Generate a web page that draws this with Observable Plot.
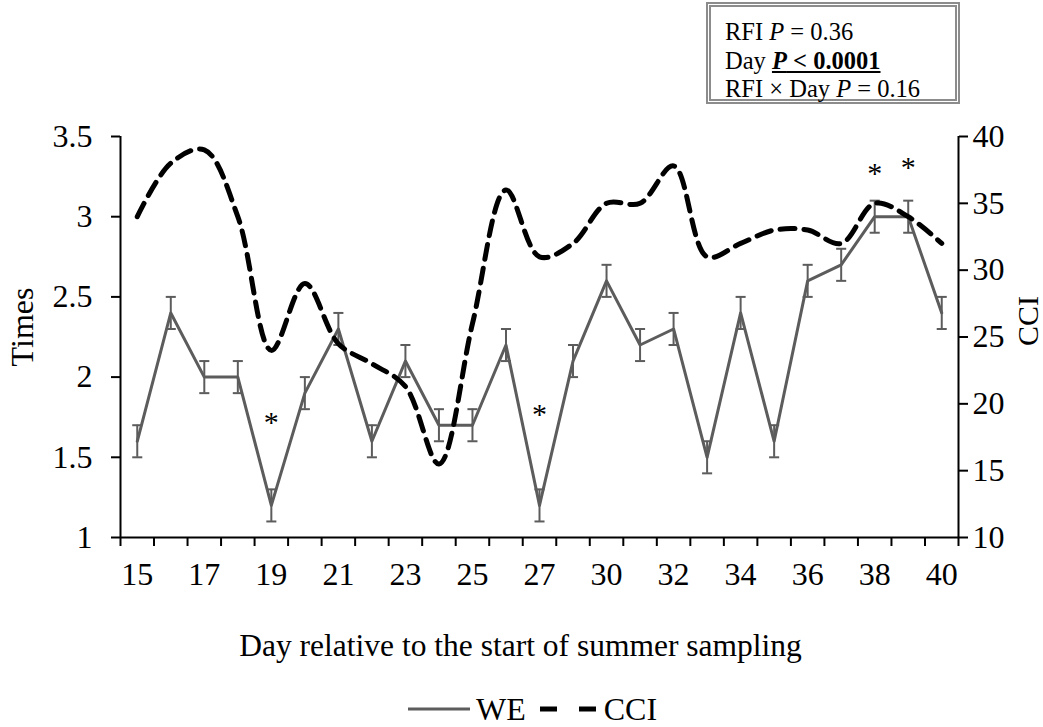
<!DOCTYPE html>
<html><head><meta charset="utf-8">
<script src="https://cdn.jsdelivr.net/npm/d3@7"></script>
<script src="https://cdn.jsdelivr.net/npm/@observablehq/plot@0.6"></script>
<style>
html,body{margin:0;padding:0;background:#fff;}
#wrap{position:relative;width:1043px;height:727px;font-family:"Liberation Serif","Times New Roman",serif;color:#000;overflow:hidden;}
#box{position:absolute;left:706px;top:2px;width:254px;height:102px;box-sizing:border-box;border:5px double #8c8c8c;padding:11px 0 0 14px;font-size:24.5px;line-height:28.5px;white-space:nowrap;background:#fff;overflow:visible;}
#legend{position:absolute;left:408px;top:692px;height:34px;display:flex;align-items:center;font-size:32px;white-space:nowrap;}
</style></head>
<body><div id="wrap"><div id="chart"></div>
<div id="box">RFI <i>P</i> = 0.36<br>Day <b><u><i>P</i> &lt; 0.0001</u></b><br>RFI × Day <i>P</i> = 0.16</div>
<div id="legend"><svg width="62" height="10"><line x1="0" x2="62" y1="5" y2="5" stroke="#5c5c5c" stroke-width="3"/></svg><span style="margin:0 14px 0 6px">WE</span><svg width="56" height="10"><line x1="0" x2="56" y1="5" y2="5" stroke="#000" stroke-width="5" stroke-dasharray="17,22"/></svg><span style="margin-left:8px">CCI</span></div>
</div>
<script>
const days = [15,16,17,18,19,20,21,22,23,24,25,26,27,28,30,31,32,33,34,35,36,37,38,39,40];
const we = [1.6,2.4,2.0,2.0,1.2,1.9,2.3,1.6,2.1,1.7,1.7,2.2,1.2,2.1,2.6,2.2,2.3,1.5,2.4,1.6,2.6,2.7,3.0,3.0,2.4];
const weErr = [0.1,0.1,0.1,0.1,0.1,0.1,0.1,0.1,0.1,0.1,0.1,0.1,0.1,0.1,0.1,0.1,0.1,0.1,0.1,0.1,0.1,0.1,0.1,0.1,0.1];
const cci = [34,38,39,34,24,29,24.5,23,21.3,15.5,26,36,31,32,35,35,37.8,31,32,33,33,32,35,34,32];
const leftTicks = [1,1.5,2,2.5,3,3.5];
const rightTicks = [10,15,20,25,30,35,40];
const starDays = [19,27,38,39];
const starHeights = [1.72,1.77,3.27,3.31];

const toLeft = c => 1 + (c - 10) * 2.5 / 30;
const fromLeft = v => String(Math.round(10 + (v - 1) * 30 / 2.5));
const rows = days.map((d, i) => ({x: i + 0.5, we: we[i], lo: we[i] - weErr[i], hi: we[i] + weErr[i], cci: toLeft(cci[i])}));
const stars = starDays.map((d, k) => ({x: days.indexOf(d) + 0.5, y: starHeights[k]}));
const gray = "#5c5c5c";
const font = "Liberation Serif";

const plot = Plot.plot({
  width: 1043, height: 690,
  marginLeft: 120, marginRight: 85, marginTop: 136, marginBottom: 153,
  x: {type: "linear", domain: [0, days.length]},
  y: {domain: [1, 3.5]},
  style: {fontFamily: font, background: "white", color: "black", overflow: "visible"},
  marks: [
    Plot.ruleX([0, days.length], {stroke: "black", strokeWidth: 2}),
    Plot.ruleY([1], {stroke: "black", strokeWidth: 2}),
    Plot.axisY(leftTicks, {anchor: "left", tickSize: 9, tickPadding: 19, fontSize: 32, label: null, strokeWidth: 2, tickFormat: d => String(d)}),
    Plot.axisY(rightTicks.map(toLeft), {anchor: "right", tickSize: 9, tickPadding: 5, fontSize: 32, label: null, strokeWidth: 2, tickFormat: fromLeft}),
    Plot.axisX(d3.range(0, days.length + 1), {anchor: "bottom", tickSize: 9, tickFormat: () => "", label: null, strokeWidth: 2}),
    Plot.axisX(d3.range(0, days.length, 2).map(i => i + 0.5), {anchor: "bottom", tickSize: 0, tickPadding: 25, fontSize: 32, label: null, tickFormat: d => String(days[Math.floor(d)])}),
    Plot.line(rows, {x: "x", y: "we", stroke: gray, strokeWidth: 3}),
    Plot.ruleX(rows, {x: "x", y1: "lo", y2: "hi", stroke: gray, strokeWidth: 2}),
    Plot.link(rows, {x1: d => d.x - 0.15, x2: d => d.x + 0.15, y1: "lo", y2: "lo", stroke: gray, strokeWidth: 2}),
    Plot.link(rows, {x1: d => d.x - 0.15, x2: d => d.x + 0.15, y1: "hi", y2: "hi", stroke: gray, strokeWidth: 2}),
    Plot.line(rows, {x: "x", y: "cci", stroke: "black", strokeWidth: 5, strokeDasharray: "15,9", curve: "catmull-rom"}),
    Plot.text(stars, {x: "x", y: "y", text: () => "*", fontSize: 30, fill: "black"}),
    Plot.text(["Times"], {frameAnchor: "left", textAnchor: "middle", dx: -110, dy: -10, rotate: -90, lineAnchor: "top", fontSize: 32}),
    Plot.text(["CCI"], {frameAnchor: "right", textAnchor: "middle", dx: 58, dy: -16, rotate: -90, lineAnchor: "top", fontSize: 30}),
    Plot.text(["Day relative to the start of summer sampling"], {frameAnchor: "bottom", dx: -19, dy: 118, fontSize: 31.5})
  ]
});
document.getElementById("chart").appendChild(plot);
</script></body></html>
